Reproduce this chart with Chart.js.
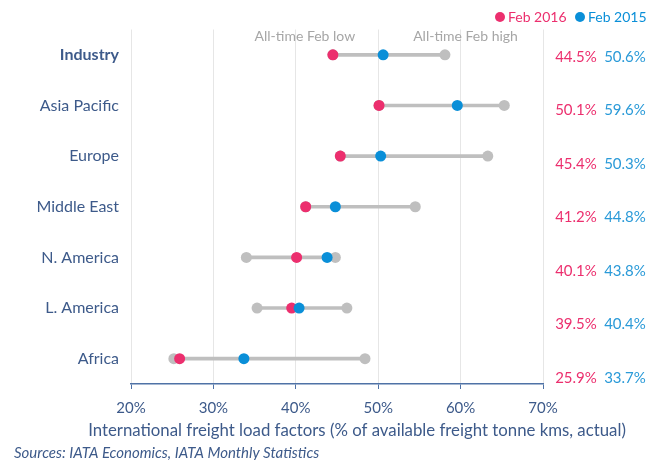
<!DOCTYPE html>
<html>
<head>
<meta charset="utf-8">
<script src="https://cdn.jsdelivr.net/npm/chart.js@4/dist/chart.umd.min.js"></script>
<style>
  html, body { margin: 0; padding: 0; background: #ffffff; }
  #wrap { width: 664px; height: 460px; }
</style>
</head>
<body>
<div id="wrap"><canvas id="chart" width="664" height="460"></canvas></div>
<script>
// International freight load factors by region, February
const regions = ['Industry', 'Asia Pacific', 'Europe', 'Middle East', 'N. America', 'L. America', 'Africa'];
const feb2016 = [44.5, 50.1, 45.4, 41.2, 40.1, 39.5, 25.9];
const feb2015 = [50.6, 59.6, 50.3, 44.8, 43.8, 40.4, 33.7];
const allTimeLow = [44.5, 50.1, 45.4, 41.2, 34.0, 35.3, 25.2];
const allTimeHigh = [58.1, 65.3, 63.3, 54.5, 44.8, 46.2, 48.4];
const xTicks = [20, 30, 40, 50, 60, 70];
const xTitle = 'International freight load factors (% of available freight tonne kms, actual)';
const source = 'Sources: IATA Economics, IATA Monthly Statistics';

const PINK = '#EC2F6E';
const BLUE = '#0A8FD8';
const GREY = '#BFBFBF';
const NAVY = '#3D5A8A';
const FONT = 'Lato, "Open Sans", sans-serif';

const fmt = v => v.toFixed(1) + '%';

// Annotations: legend, range captions, value columns, axis title and source note
const annotations = {
  id: 'annotations',
  afterDraw(chart) {
    const { ctx, scales: { x, y } } = chart;
    ctx.save();

    // legend
    ctx.font = '14px ' + FONT;
    ctx.textBaseline = 'middle';
    ctx.textAlign = 'left';
    const legend = [
      { text: 'Feb 2016', color: PINK, x: 500 },
      { text: 'Feb 2015', color: BLUE, x: 580 }
    ];
    legend.forEach(item => {
      ctx.fillStyle = item.color;
      ctx.beginPath();
      ctx.arc(item.x, 17, 5, 0, Math.PI * 2);
      ctx.fill();
      ctx.fillText(item.text, item.x + 8, 17);
    });

    // range captions
    ctx.fillStyle = '#A6A6A6';
    ctx.textAlign = 'center';
    ctx.fillText('All-time Feb low', x.getPixelForValue(41.1), 36);
    ctx.fillText('All-time Feb high', x.getPixelForValue(60.6), 36);

    // value columns
    ctx.font = '15px ' + FONT;
    const y0 = y.getPixelForValue(0) + 2;
    regions.forEach((r, i) => {
      const yy = y0 + i * 53.5;
      ctx.fillStyle = PINK;
      ctx.fillText(fmt(feb2016[i]), 576, yy);
      ctx.fillStyle = '#2A9AD8';
      ctx.fillText(fmt(feb2015[i]), 625, yy);
    });

    // axis title
    ctx.font = '16.8px ' + FONT;
    ctx.fillStyle = NAVY;
    ctx.fillText(xTitle, 357, 431);

    // source
    ctx.font = 'italic 15px ' + FONT;
    ctx.textAlign = 'left';
    ctx.fillText(source, 14, 453);
    ctx.restore();
  }
};

const pointSet = (data, color, order) => ({
  type: 'line',
  indexAxis: 'y',
  data: data,
  showLine: false,
  pointRadius: 5.5,
  pointHoverRadius: 5.5,
  pointBorderWidth: 0,
  pointBackgroundColor: color,
  pointBorderColor: color,
  order: order
});

new Chart(document.getElementById('chart'), {
  type: 'bar',
  data: {
    labels: regions,
    datasets: [
      {
        type: 'bar',
        indexAxis: 'y',
        data: allTimeLow.map((lo, i) => [lo, allTimeHigh[i]]),
        backgroundColor: GREY,
        barThickness: 3,
        borderWidth: 0,
        order: 4
      },
      pointSet(allTimeLow, GREY, 3),
      pointSet(allTimeHigh, GREY, 2),
      pointSet(feb2016, PINK, 1),
      pointSet(feb2015, BLUE, 0)
    ]
  },
  options: {
    indexAxis: 'y',
    responsive: false,
    animation: false,
    events: [],
    layout: { padding: { top: 29.5, right: 121, bottom: 16, left: 0 } },
    plugins: { legend: { display: false }, tooltip: { enabled: false } },
    scales: {
      x: {
        type: 'linear',
        position: 'bottom',
        min: 20,
        max: 70,
        afterBuildTicks: scale => { scale.ticks = xTicks.map(v => ({ value: v })); },
        afterFit: scale => { scale.height = 60; },
        grid: { color: '#E6E6E6', lineWidth: 1, tickColor: '#4F72A6', tickLength: 5, drawTicks: true },
        border: { color: '#4F72A6', width: 1.5 },
        ticks: {
          padding: 10,
          color: NAVY,
          font: { family: FONT, size: 15 },
          callback: v => v + '%'
        }
      },
      y: {
        type: 'category',
        offset: true,
        afterFit: scale => { scale.width = 131; },
        grid: { display: false, drawTicks: false },
        border: { display: false },
        ticks: {
          padding: 12,
          color: NAVY,
          font: ctx => ({ family: FONT, size: 16, weight: ctx.index === 0 ? 'bold' : 'normal' })
        }
      }
    }
  },
  plugins: [annotations]
});
</script>
</body>
</html>
